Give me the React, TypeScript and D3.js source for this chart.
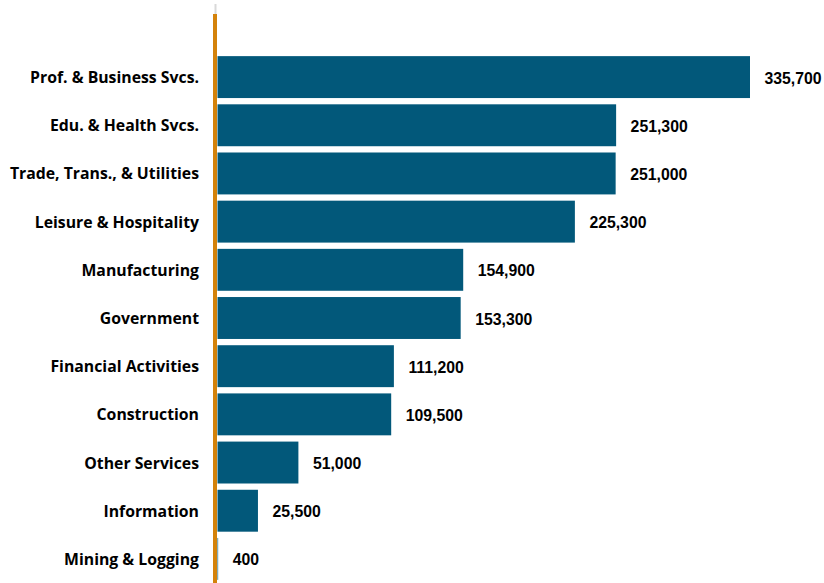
import React from "react";
import * as d3 from "d3";

const categories = [
  "Prof. & Business Svcs.",
  "Edu. & Health Svcs.",
  "Trade, Trans., & Utilities",
  "Leisure & Hospitality",
  "Manufacturing",
  "Government",
  "Financial Activities",
  "Construction",
  "Other Services",
  "Information",
  "Mining & Logging",
];
const values = [335700, 251300, 251000, 225300, 154900, 153300, 111200, 109500, 51000, 25500, 400];

const W = 824;
const H = 583;

export default function App() {
  const x0 = 217.5;
  const x = d3.scaleLinear().domain([0, 335700]).range([x0, 750]);
  const y = d3.scaleBand<string>().domain(categories).range([53, 583]).paddingInner(0.13).paddingOuter(0.065);
  const fmt = d3.format(",");
  return (
    <svg width={W} height={H} style={{ position: "absolute", left: 0, top: 0 }}>
      <rect width={W} height={H} fill="#fff" />
      {categories.map((c, i) => (
        <g key={c}>
          <rect x={x0} y={y(c)!} width={Math.max(0, x(values[i]) - x0)} height={y.bandwidth()} fill="#02587a" />
          <text
            x={199}
            y={y(c)! + y.bandwidth() / 2}
            textAnchor="end"
            dominantBaseline="central"
            fontFamily="'Open Sans', Lato, sans-serif"
            fontWeight="bold"
            fontSize={15.8}
            fill="#000"
          >
            {c}
          </text>
          <text
            x={x(values[i]) + 14.5}
            y={y(c)! + y.bandwidth() / 2 + 1}
            dominantBaseline="central"
            fontFamily="'Liberation Sans', Arial, sans-serif"
            fontWeight="bold"
            fontSize={15.8}
            fill="#000"
          >
            {fmt(values[i])}
          </text>
        </g>
      ))}
      <line x1={215.5} x2={215.5} y1={4} y2={14} stroke="#d9d9d9" strokeWidth={2} />
      <line x1={215} x2={215} y1={14} y2={583} stroke="#d4820a" strokeWidth={4} />
    </svg>
  );
}
